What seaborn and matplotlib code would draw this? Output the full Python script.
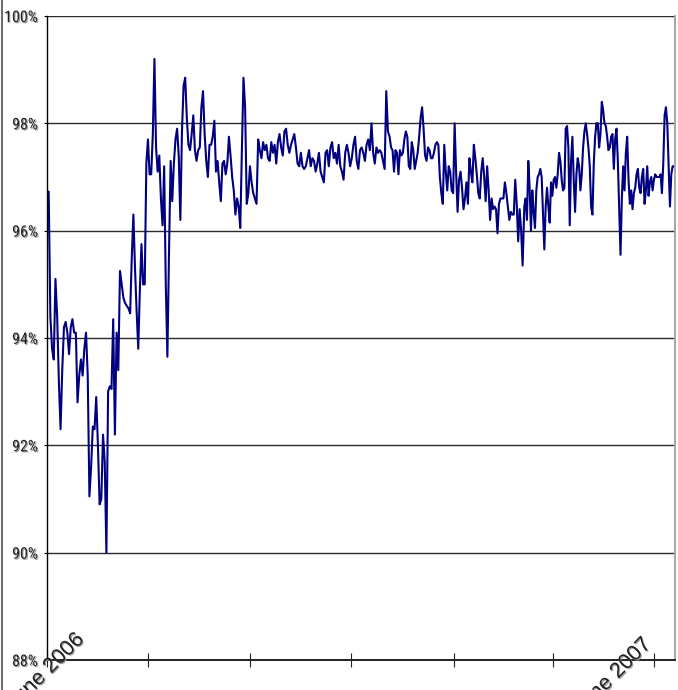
import numpy as np
import pandas as pd
import matplotlib
matplotlib.use("Agg")
import matplotlib.pyplot as plt
import matplotlib.patheffects as pe
from matplotlib.font_manager import FontProperties
import seaborn as sns

# daily ratio readings, split in stretches with their first / last date
seg_a_dates = ("2006-06-02", "2006-07-20")
seg_a = [96.73, 94.4, 93.8, 93.6, 95.1, 94.4, 93.2, 92.3, 93.4, 94.2, 94.3, 94.1,
         93.7, 94.2, 94.35, 94.1, 94.1, 92.8, 93.3, 93.6, 93.3, 93.8, 94.1, 93.3,
         91.05, 91.6, 92.35, 92.3, 92.9, 92.0, 90.9, 91.0, 92.2, 91.7, 90.0, 93.0,
         93.1, 93.05, 94.35, 92.2, 94.1, 93.4, 95.25, 95.0, 94.75, 94.65, 94.6, 94.55]

seg_b_dates = ("2006-07-21", "2006-10-03")
seg_b = [94.46, 95.5, 96.3, 95.3, 94.5, 93.8, 94.9, 95.75, 95.0, 95.0, 97.25, 97.7,
         97.05, 97.05, 97.8, 99.2, 97.55, 97.1, 97.4, 96.6, 96.1, 97.2, 95.0, 93.65,
         95.6, 97.3, 96.55, 97.25, 97.7, 97.9, 97.4, 96.2, 97.85, 98.7, 98.85, 98.1,
         97.6, 97.5, 97.8, 98.15, 97.5, 97.3, 97.5, 97.55, 98.3, 98.6, 97.8, 97.3,
         97.0, 97.6, 97.6, 97.75, 98.05, 97.1, 97.3, 96.9, 96.55, 97.25, 97.3, 97.05,
         97.25, 97.75, 97.4, 97.0, 96.75, 96.3, 96.6, 96.45, 96.05, 97.5, 98.85, 98.3,
         96.5, 96.7, 97.2, 96.9, 96.7]

seg_c_dates = ("2006-10-04", "2006-12-23")
seg_c = [96.6, 96.5, 97.7, 97.5, 97.35, 97.65, 97.5, 97.6, 97.35, 97.3, 97.65, 97.45,
         97.6, 97.25, 97.65, 97.8, 97.55, 97.4, 97.85, 97.9, 97.6, 97.45, 97.6, 97.7,
         97.8, 97.55, 97.25, 97.2, 97.45, 97.2, 97.15, 97.2, 97.35, 97.5, 97.2, 97.35,
         97.3, 97.1, 97.25, 97.45, 97.1, 97.0, 96.9, 97.45, 97.5, 97.2, 97.55, 97.65,
         97.35, 97.45, 97.25, 97.6, 97.2, 97.1, 96.95, 97.45, 97.6, 97.45, 97.2, 97.35,
         97.6, 97.75, 97.3, 97.15, 97.5, 97.55, 97.45, 97.3, 97.6, 97.7, 97.5, 98.0,
         97.45, 97.25, 97.55, 97.45, 97.5, 97.45, 97.3, 97.15, 98.6, 97.85]

seg_d_dates = ("2006-12-24", "2007-03-14")
seg_d = [97.75, 97.55, 97.5, 97.1, 97.5, 97.45, 97.05, 97.5, 97.4, 97.45, 97.7, 97.85,
         97.75, 97.2, 97.15, 97.65, 97.5, 97.15, 97.3, 97.45, 97.75, 98.1, 98.3, 97.9,
         97.4, 97.3, 97.55, 97.5, 97.35, 97.35, 97.45, 97.6, 97.65, 97.6, 97.0, 96.7,
         96.5, 97.6, 97.1, 96.75, 97.2, 97.1, 96.75, 96.7, 98.0, 97.1, 96.35, 96.95,
         97.1, 96.8, 96.4, 96.6, 96.9, 96.5, 97.35, 97.1, 96.9, 97.6, 97.35, 97.05,
         96.7, 96.6, 97.1, 97.35, 97.0, 96.55, 97.2, 96.75, 96.2, 96.6, 96.4, 96.45,
         96.4, 95.95, 96.5, 96.6, 96.6, 96.6, 96.9, 96.7, 96.45, 96.2, 96.35, 96.3,
         96.3, 96.95, 96.5, 95.8, 96.4, 96.0, 95.35]

seg_e_dates = ("2007-03-15", "2007-06-13")
seg_e = [96.45, 96.6, 96.2, 97.3, 96.8, 96.0, 96.75, 96.35, 96.05, 96.75, 97.0, 97.05,
         97.15, 97.0, 96.35, 95.65, 96.45, 96.8, 96.45, 96.15, 96.9, 96.65, 96.95, 97.0,
         96.8, 97.05, 97.45, 97.3, 96.95, 96.75, 96.8, 97.9, 97.95, 97.55, 96.1, 97.3,
         97.75, 96.95, 96.35, 97.05, 97.35, 97.2, 96.75, 97.05, 97.55, 97.85, 98.0, 97.8,
         97.55, 97.2, 96.45, 96.3, 97.25, 97.75, 98.0, 98.0, 97.55, 97.8, 98.4, 98.25,
         98.0, 97.95, 97.75, 97.5, 97.55, 97.75, 97.8, 97.15, 97.7, 97.9, 97.3, 96.4,
         95.55, 96.6, 97.2, 96.75, 97.45, 97.75, 96.95, 96.5, 96.75, 96.4, 96.7, 96.8,
         97.05, 97.15, 96.8, 96.7, 97.0, 97.15, 96.5, 96.75, 97.2, 96.65, 96.9, 97.0,
         96.75, 96.95, 97.05, 97.0, 97.0, 97.0, 97.05, 96.7, 97.25, 98.15, 98.3, 98.0,
         97.25, 96.45, 97.05, 97.2, 97.2]

tick_dates = ["2006-06-01", "2006-08-01", "2006-10-01", "2006-12-01",
              "2007-02-01", "2007-04-01", "2007-06-01"]
tick_labels = ["June 2006", "", "", "", "", "", "June 2007"]
y_ticks = [88, 90, 92, 94, 96, 98, 100]

frames = []
for (start, end), vals in [(seg_a_dates, seg_a), (seg_b_dates, seg_b), (seg_c_dates, seg_c),
                           (seg_d_dates, seg_d), (seg_e_dates, seg_e)]:
    frames.append(pd.DataFrame({"date": pd.date_range(start, end, periods=len(vals)),
                                "ratio": vals}))
df = pd.concat(frames, ignore_index=True)

sns.set_style("white")
plt.rcParams['font.family'] = ['Liberation Sans', 'DejaVu Sans']

fig = plt.figure(figsize=(6.78, 6.90), dpi=100)
ax = fig.add_axes([47 / 678, 30 / 690, 628 / 678, 644 / 690])

sns.lineplot(data=df, x="date", y="ratio", ax=ax, color="#000080", linewidth=1.5)

ax.set_ylim(88, 100)
ax.set_xlim(pd.Timestamp("2006-06-01"), pd.Timestamp("2007-06-13 15:00"))
ax.set_yticks(y_ticks)
ax.set_yticklabels([f"{v}%" for v in y_ticks])
ax.yaxis.grid(True, color="#2a2a2a", linewidth=1.0)
ax.set_axisbelow(True)
ax.set_xlabel("")
ax.set_ylabel("")

shadow = [pe.withSimplePatchShadow(offset=(0.8, -0.8), shadow_rgbFace="#9a9a9a", alpha=1.0)]
ylab_font = FontProperties(family=['Roboto Condensed', 'Liberation Sans Narrow', 'Liberation Sans'],
                           stretch='condensed', size=11.5)
for lab in ax.get_yticklabels():
    lab.set_fontproperties(ylab_font)
    lab.set_color("#222222")
    lab.set_path_effects(shadow)
ax.tick_params(axis="y", direction="out", length=2.5, width=0.8, color="black", pad=4, left=True)

ax.set_xticks(pd.to_datetime(tick_dates))
ax.set_xticklabels([""] * len(tick_dates))
ax.tick_params(axis="x", direction="inout", length=10, width=0.8, color="#222222", bottom=True)

# rotated date labels, shifted like the original sheet export
offsets = {"June 2006": (38, 20), "June 2007": (-2, 15)}
for d, lab in zip(tick_dates, tick_labels):
    if not lab:
        continue
    dx, dy = offsets[lab]
    ax.annotate(lab, xy=(pd.Timestamp(d), 0), xycoords=("data", "axes fraction"),
                xytext=(dx * 0.72, dy * 0.72), textcoords="offset points",
                rotation=45, rotation_mode="anchor", ha="right", va="baseline",
                fontsize=15.5, color="#222222", annotation_clip=False, path_effects=shadow)

ax.spines["top"].set_visible(False)
ax.spines["left"].set_color("black")
ax.spines["left"].set_linewidth(1.0)
ax.spines["bottom"].set_color("#222222")
ax.spines["bottom"].set_linewidth(1.4)
ax.spines["right"].set_color("#a8a8a8")
ax.spines["right"].set_linewidth(1.5)

# chart area border on the left
fig.add_artist(plt.Line2D([2 / 678, 2 / 678], [0, 1], color="#505050", linewidth=1.2))

fig.savefig("out.png", dpi=100)
